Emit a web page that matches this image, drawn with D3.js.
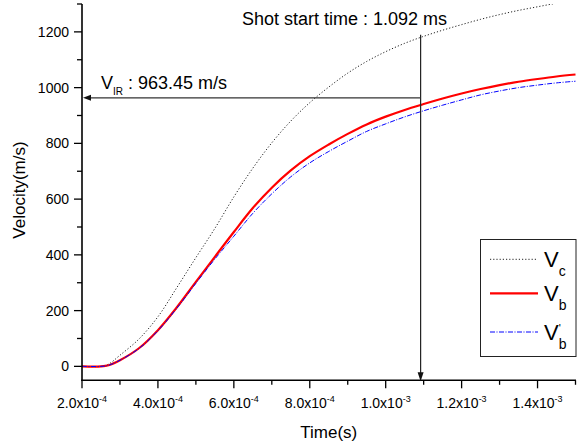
<!DOCTYPE html>
<html>
<head>
<meta charset="utf-8">
<script src="https://cdn.jsdelivr.net/npm/d3@7"></script>
<style>
  html, body { margin: 0; padding: 0; background: #fff; }
  svg text { font-family: Arial, "Liberation Sans", sans-serif; fill: #000; }
</style>
</head>
<body>
<svg id="chart" width="584" height="446"></svg>
<script>
// ---- data ----
const time = [2.0e-4, 2.5e-4, 2.7e-4, 3.0e-4, 3.5e-4, 4.0e-4, 4.5e-4, 5.0e-4, 5.5e-4, 6.0e-4,
              6.5e-4, 7.0e-4, 7.5e-4, 8.0e-4, 8.5e-4, 9.0e-4, 9.5e-4, 1.0e-3, 1.05e-3, 1.1e-3,
              1.15e-3, 1.2e-3, 1.25e-3, 1.3e-3, 1.35e-3, 1.4e-3, 1.45e-3, 1.5e-3];
const vc  = [0, 0, 8, 40, 98, 178, 283, 390, 495, 608,
             711, 802, 880, 946, 1002, 1052, 1094, 1129, 1159, 1184,
             1206, 1226, 1245, 1262, 1277, 1290, 1303, 1315];
const vb  = [0, 0, 4, 22, 65, 130, 212, 303, 393, 482,
             568, 641, 703, 754, 796, 834, 868, 896, 920, 941,
             961, 979, 995, 1009, 1021, 1031, 1040, 1047];
const vb2 = [0, 0, 4, 22, 64, 128, 209, 298, 385, 467,
             549, 619, 680, 730, 771, 808, 843, 870, 895, 917,
             937, 956, 974, 988, 1000, 1009, 1017, 1023];
const xMajorTicks = [2.0e-4, 4.0e-4, 6.0e-4, 8.0e-4, 1.0e-3, 1.2e-3, 1.4e-3];
const xTickMant = ["2.0", "4.0", "6.0", "8.0", "1.0", "1.2", "1.4"];
const xTickExp  = ["-4", "-4", "-4", "-4", "-3", "-3", "-3"];
const xMinorTicks = [3.0e-4, 5.0e-4, 7.0e-4, 9.0e-4, 1.1e-3, 1.3e-3, 1.5e-3];
const yMajorTicks = [0, 200, 400, 600, 800, 1000, 1200];
const yMinorTicks = [100, 300, 500, 700, 900, 1100, 1300];
const shotTime = 1.092e-3;
const vIR = 963.45;
const shotTopV = 1190;

// ---- layout ----
const svg = d3.select("#chart");
const x = d3.scaleLinear().domain([2.0e-4, 1.5e-3]).range([82, 575.5]);
const y = d3.scaleLinear().domain([-50, 1300]).range([380.3, 4]);

svg.append("defs").append("clipPath").attr("id", "plotclip")
  .append("rect").attr("x", x.range()[0]).attr("y", y.range()[1])
  .attr("width", x.range()[1] - x.range()[0] + 1).attr("height", y.range()[0] - y.range()[1]);

// ---- curves ----
const line = d3.line().x((d, i) => x(time[i])).y(d => y(d)).curve(d3.curveCatmullRom.alpha(0.5));
const g = svg.append("g").attr("clip-path", "url(#plotclip)");
g.append("path").attr("d", line(vc)).attr("fill", "none")
  .attr("stroke", "#222").attr("stroke-width", 1).attr("stroke-dasharray", "1.2,2");
g.append("path").attr("d", line(vb)).attr("fill", "none")
  .attr("stroke", "#ff0000").attr("stroke-width", 2.2);
g.append("path").attr("d", line(vb2)).attr("fill", "none")
  .attr("stroke", "#0000ff").attr("stroke-width", 1).attr("stroke-dasharray", "5,1.5,1,1.5");

// ---- axes ----
const ax = svg.append("g").attr("stroke", "#000");
ax.append("line").attr("x1", x.range()[0]).attr("x2", x.range()[0])
  .attr("y1", y.range()[1]).attr("y2", y.range()[0] + 0.7).attr("stroke-width", 1.6);
ax.append("line").attr("x1", x.range()[0] - 0.8).attr("x2", x.range()[1] + 0.5)
  .attr("y1", y.range()[0]).attr("y2", y.range()[0]).attr("stroke-width", 1.6);

yMajorTicks.forEach(v => ax.append("line").attr("x1", x.range()[0] - 8).attr("x2", x.range()[0])
  .attr("y1", y(v)).attr("y2", y(v)).attr("stroke-width", 1.3));
yMinorTicks.forEach(v => ax.append("line").attr("x1", x.range()[0] - 5).attr("x2", x.range()[0])
  .attr("y1", y(v)).attr("y2", y(v)).attr("stroke-width", 1.3));
xMajorTicks.forEach(t => ax.append("line").attr("x1", x(t)).attr("x2", x(t))
  .attr("y1", y.range()[0]).attr("y2", y.range()[0] + 8).attr("stroke-width", 1.3));
xMinorTicks.forEach(t => ax.append("line").attr("x1", x(t)).attr("x2", x(t))
  .attr("y1", y.range()[0]).attr("y2", y.range()[0] + 4.5).attr("stroke-width", 1.3));

svg.append("g").selectAll("text").data(yMajorTicks).join("text")
  .attr("x", x.range()[0] - 13).attr("y", d => y(d) + 5)
  .attr("text-anchor", "end").attr("font-size", 14).text(d => d);

const xl = svg.append("g").selectAll("text").data(xMajorTicks).join("text")
  .attr("x", d => x(d)).attr("y", 408).attr("text-anchor", "middle").attr("font-size", 14);
xl.append("tspan").text((d, i) => xTickMant[i] + "x10");
xl.append("tspan").attr("font-size", 9).attr("dy", -6).text((d, i) => xTickExp[i]);

svg.append("text").attr("x", (x.range()[0] + x.range()[1]) / 2).attr("y", 437.5)
  .attr("text-anchor", "middle").attr("font-size", 17).text("Time(s)");
svg.append("text").attr("transform", "translate(25," + 190 + ") rotate(-90)")
  .attr("text-anchor", "middle").attr("font-size", 17).text("Velocity(m/s)");

// ---- annotations ----
const sx = x(shotTime), hy = y(vIR);
svg.append("line").attr("x1", sx).attr("x2", sx).attr("y1", y(shotTopV)).attr("y2", y.range()[0] - 6)
  .attr("stroke", "#222").attr("stroke-width", 1.2);
svg.append("path").attr("d", `M${sx},${y.range()[0] + 1} L${sx - 3},${y.range()[0] - 8} L${sx + 3},${y.range()[0] - 8} Z`)
  .attr("fill", "#111");
svg.append("line").attr("x1", sx).attr("x2", x.range()[0] + 7).attr("y1", hy).attr("y2", hy)
  .attr("stroke", "#333").attr("stroke-width", 1.3);
svg.append("path").attr("d", `M${x.range()[0] + 1},${hy} L${x.range()[0] + 9},${hy - 3} L${x.range()[0] + 9},${hy + 3} Z`)
  .attr("fill", "#111");

svg.append("text").attr("x", 242).attr("y", 24.5).attr("font-size", 18)
  .text("Shot start time : " + (shotTime * 1000).toFixed(3) + " ms");
const vt = svg.append("text").attr("x", 101).attr("y", 88.5).attr("font-size", 18);
vt.append("tspan").text("V");
vt.append("tspan").attr("font-size", 10).attr("dy", 6).text("IR");
vt.append("tspan").attr("dy", -6).text(" : " + vIR.toFixed(2) + " m/s");

// ---- legend ----
const lg = svg.append("g");
lg.append("rect").attr("x", 480.5).attr("y", 239.5).attr("width", 95.5).attr("height", 117)
  .attr("fill", "#fff").attr("stroke", "#222").attr("stroke-width", 1);
const legendItems = [
  {sub: "c", prime: false, color: "#222", width: 1, dash: "1.2,2", rowY: 259.3},
  {sub: "b", prime: false, color: "#ff0000", width: 2.2, dash: null, rowY: 293.3},
  {sub: "b", prime: true, color: "#0000ff", width: 1, dash: "5,1.5,1,1.5", rowY: 332}
];
legendItems.forEach(it => {
  lg.append("line").attr("x1", 490).attr("x2", 538).attr("y1", it.rowY).attr("y2", it.rowY)
    .attr("stroke", it.color).attr("stroke-width", it.width).attr("stroke-dasharray", it.dash);
  const t = lg.append("text").attr("x", 544).attr("y", it.rowY + 7.6).attr("font-size", 22);
  t.append("tspan").text("V");
  if (it.prime) {
    t.append("tspan").attr("font-size", 11).attr("dy", -7.5).text("'");
    t.append("tspan").attr("font-size", 14).attr("dx", -2).attr("dy", 17).text(it.sub);
  } else {
    t.append("tspan").attr("font-size", 14).attr("dy", 9.5).text(it.sub);
  }
});
</script>
</body>
</html>
